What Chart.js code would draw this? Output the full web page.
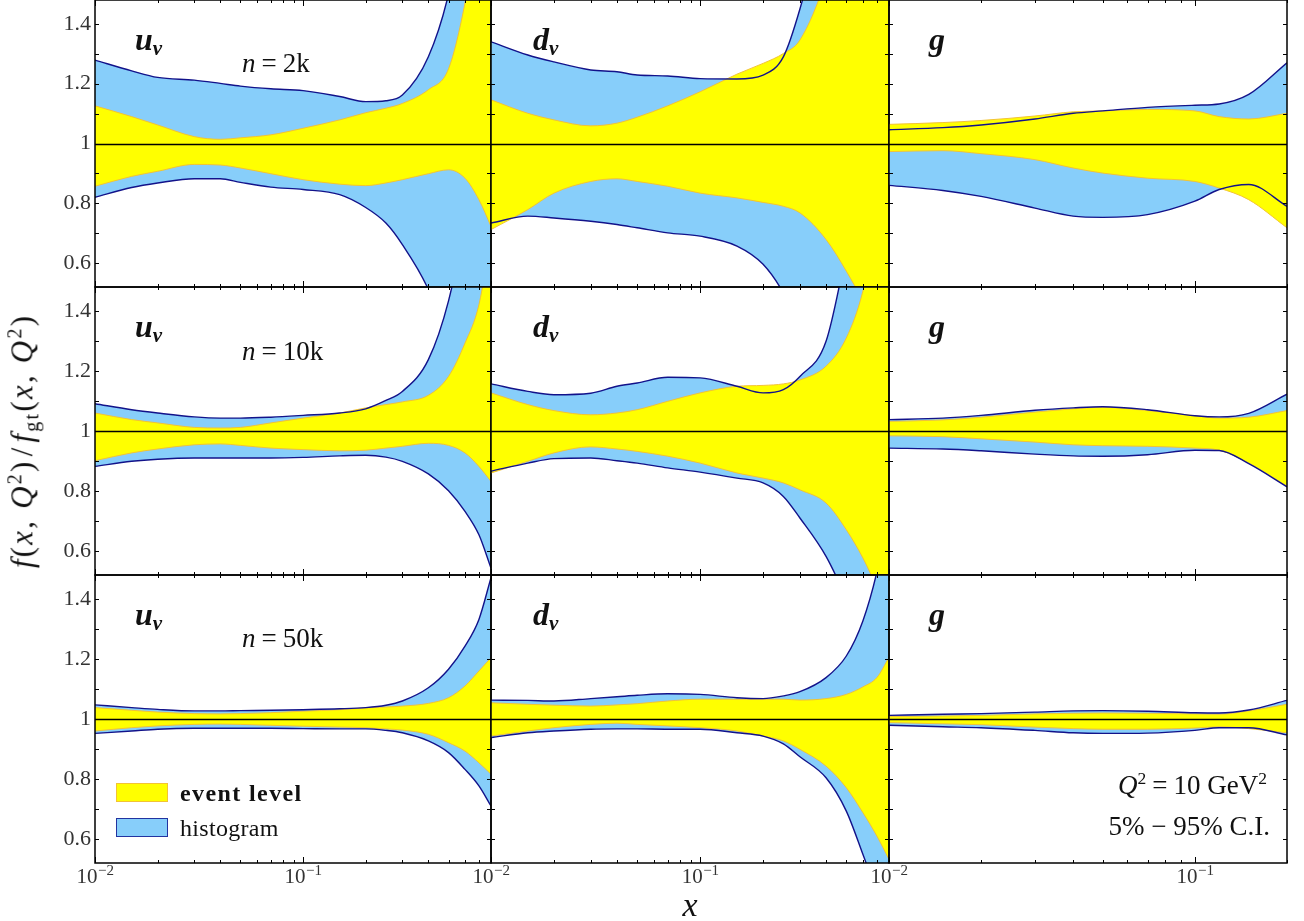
<!DOCTYPE html>
<html>
<head>
<meta charset="utf-8">
<script src="https://cdn.jsdelivr.net/npm/chart.js@4.4.1/dist/chart.umd.min.js"></script>
<style>
  body { margin: 0; background: #fff; }
  #fig { position: relative; width: 1304px; height: 921px; overflow: hidden; font-family: "Liberation Serif", serif; color: #111; }
  #fig canvas { position: absolute; }
  .t { position: absolute; white-space: nowrap; line-height: 1; z-index: 2; }
  .lab { font-size: 32px; font-weight: bold; font-style: italic; }
  .lab sub { font-size: 21px; vertical-align: -5px; }
  .n { font-size: 27px; }
  .eq { margin: 0 6px; }
  .leg { font-size: 24px; }
  .box { position: absolute; width: 52px; height: 19px; z-index: 2; box-sizing: border-box; }
  sup { font-size: 0.65em; vertical-align: 0.55em; }
  sub.s { font-size: 0.65em; vertical-align: -0.3em; }
</style>
</head>
<body>
<div id="fig">
  <div class="t lab" style="left:135px;top:23px"><i>u</i><sub>v</sub></div>
  <div class="t lab" style="left:533px;top:23px"><i>d</i><sub>v</sub></div>
  <div class="t lab" style="left:929px;top:23px"><i>g</i></div>
  <div class="t lab" style="left:135px;top:310px"><i>u</i><sub>v</sub></div>
  <div class="t lab" style="left:533px;top:310px"><i>d</i><sub>v</sub></div>
  <div class="t lab" style="left:929px;top:310px"><i>g</i></div>
  <div class="t lab" style="left:135px;top:598px"><i>u</i><sub>v</sub></div>
  <div class="t lab" style="left:533px;top:598px"><i>d</i><sub>v</sub></div>
  <div class="t lab" style="left:929px;top:598px"><i>g</i></div>

  <div class="t n" style="left:242px;top:50px"><i>n</i><span class="eq">=</span>2k</div>
  <div class="t n" style="left:242px;top:338px"><i>n</i><span class="eq">=</span>10k</div>
  <div class="t n" style="left:242px;top:625px"><i>n</i><span class="eq">=</span>50k</div>

  <div class="box" style="left:116px;top:783px;background:#ffff00;border:1.5px solid #f2c335"></div>
  <div class="box" style="left:116px;top:818px;background:#87cefa;border:1.5px solid #2233a0"></div>
  <div class="t leg" style="left:180px;top:781px;font-weight:bold;letter-spacing:1.4px">event level</div>
  <div class="t leg" style="left:180px;top:816px;letter-spacing:0.3px">histogram</div>

  <div class="t n" style="right:37px;top:770px"><i>Q</i><sup>2</sup><span class="eq">=</span>10 GeV<sup>2</sup></div>
  <div class="t n" style="right:34px;top:813px">5% − 95% C.I.</div>

  <div class="t" style="left:23px;top:441px;font-size:31px;letter-spacing:2.2px;transform:translate(-50%,-50%) rotate(-90deg)"><i>f</i>(<i>x</i>, <i>Q</i><sup>2</sup>)<span style="margin:0 3px">/</span><i>f</i><sub class="s">gt</sub>(<i>x</i>, <i>Q</i><sup>2</sup>)</div>
  <div class="t" style="left:690px;top:905px;font-size:34px;font-style:italic;transform:translate(-50%,-50%)">x</div>
</div>
<script>
// x grids (momentum fraction)
const xQuark = [0.01, 0.015, 0.02, 0.03, 0.04, 0.05, 0.07, 0.1, 0.15, 0.2, 0.25, 0.3, 0.4, 0.5, 0.6, 0.7, 0.8];
const xGluon = [0.01, 0.015, 0.02, 0.03, 0.04, 0.05, 0.07, 0.1, 0.12, 0.15, 0.2];

// ticks
const yTicks = [0.6, 0.7, 0.8, 0.9, 1, 1.1, 1.2, 1.3, 1.4];
const yTickLabels = ['0.6', '', '0.8', '', '1', '', '1.2', '', '1.4'];
const xTicksQuark = [0.01, 0.02, 0.03, 0.04, 0.05, 0.06, 0.07, 0.08, 0.09, 0.1, 0.2, 0.3, 0.4, 0.5, 0.6, 0.7, 0.8];
const xTicksGluon = [0.01, 0.02, 0.03, 0.04, 0.05, 0.06, 0.07, 0.08, 0.09, 0.1, 0.2];
const xMajorLabels = { 0.01: ['10', '−2'], 0.1: ['10', '−1'] };

// n = 2k
const uv2kHistHi = [1.279, 1.243, 1.221, 1.212, 1.201, 1.192, 1.183, 1.177, 1.157, 1.140, 1.143, 1.162, 1.29, 1.5, 1.8, 2.2, 2.6];
const uv2kHistLo = [0.820, 0.853, 0.868, 0.882, 0.882, 0.870, 0.854, 0.846, 0.829, 0.786, 0.734, 0.662, 0.512, 0.33, 0.1, -0.1, -0.3];
const uv2kEvtHi  = [1.126, 1.090, 1.062, 1.023, 1.014, 1.019, 1.029, 1.051, 1.079, 1.103, 1.118, 1.134, 1.18, 1.25, 1.47, 1.75, 2.0];
const uv2kEvtLo  = [0.857, 0.890, 0.907, 0.930, 0.928, 0.918, 0.899, 0.879, 0.864, 0.859, 0.868, 0.879, 0.899, 0.912, 0.884, 0.812, 0.723];

const dv2kHistHi = [1.340, 1.296, 1.273, 1.246, 1.240, 1.229, 1.226, 1.217, 1.216, 1.229, 1.29, 1.45, 1.8, 2.2, 2.6, 3.0, 3.4];
const dv2kHistLo = [0.734, 0.757, 0.751, 0.740, 0.729, 0.718, 0.701, 0.690, 0.657, 0.596, 0.50, 0.38, 0.2, 0.0, -0.2, -0.4, -0.6];
const dv2kEvtHi  = [1.146, 1.101, 1.079, 1.059, 1.068, 1.088, 1.126, 1.173, 1.232, 1.268, 1.301, 1.346, 1.55, 1.8, 2.1, 2.4, 2.7];
const dv2kEvtLo  = [0.712, 0.779, 0.834, 0.873, 0.882, 0.873, 0.857, 0.834, 0.818, 0.803, 0.790, 0.768, 0.679, 0.573, 0.47, 0.35, 0.2];

const g2kHistHi = [1.046, 1.053, 1.062, 1.082, 1.101, 1.109, 1.121, 1.128, 1.132, 1.164, 1.270];
const g2kHistLo = [0.860, 0.843, 0.823, 0.784, 0.757, 0.753, 0.762, 0.807, 0.846, 0.863, 0.790];
const g2kEvtHi  = [1.064, 1.070, 1.077, 1.092, 1.106, 1.109, 1.114, 1.109, 1.090, 1.082, 1.101];
const g2kEvtLo  = [0.973, 0.976, 0.966, 0.946, 0.918, 0.901, 0.884, 0.873, 0.851, 0.812, 0.718];

// n = 10k
const uv10kHistHi = [1.091, 1.071, 1.060, 1.047, 1.043, 1.043, 1.046, 1.052, 1.060, 1.074, 1.102, 1.132, 1.238, 1.434, 1.7, 2.0, 2.3];
const uv10kHistLo = [0.882, 0.899, 0.906, 0.910, 0.910, 0.910, 0.910, 0.912, 0.917, 0.919, 0.913, 0.899, 0.857, 0.801, 0.732, 0.654, 0.543];
const uv10kEvtHi  = [1.060, 1.038, 1.027, 1.012, 1.010, 1.012, 1.027, 1.043, 1.060, 1.077, 1.088, 1.097, 1.119, 1.182, 1.293, 1.421, 1.65];
const uv10kEvtLo  = [0.901, 0.927, 0.940, 0.954, 0.957, 0.952, 0.943, 0.938, 0.934, 0.936, 0.943, 0.949, 0.959, 0.952, 0.927, 0.882, 0.832];

const dv10kHistHi = [1.157, 1.132, 1.121, 1.126, 1.149, 1.160, 1.179, 1.177, 1.149, 1.127, 1.138, 1.182, 1.299, 1.6, 1.9, 2.3, 2.7];
const dv10kHistLo = [0.866, 0.893, 0.908, 0.910, 0.901, 0.893, 0.877, 0.863, 0.843, 0.827, 0.782, 0.710, 0.582, 0.44, 0.3, 0.15, 0.0];
const dv10kEvtHi  = [1.127, 1.088, 1.068, 1.054, 1.060, 1.071, 1.099, 1.127, 1.149, 1.152, 1.157, 1.170, 1.216, 1.31, 1.466, 1.7, 1.9];
const dv10kEvtLo  = [0.860, 0.899, 0.927, 0.947, 0.940, 0.932, 0.916, 0.893, 0.860, 0.843, 0.827, 0.804, 0.76, 0.671, 0.577, 0.48, 0.40];

const g10kHistHi = [1.038, 1.043, 1.052, 1.069, 1.077, 1.081, 1.071, 1.051, 1.047, 1.059, 1.123];
const g10kHistLo = [0.943, 0.940, 0.934, 0.923, 0.917, 0.916, 0.921, 0.936, 0.935, 0.891, 0.814];
const g10kEvtHi  = [1.032, 1.037, 1.046, 1.063, 1.074, 1.079, 1.068, 1.051, 1.043, 1.046, 1.068];
const g10kEvtLo  = [0.984, 0.981, 0.974, 0.963, 0.954, 0.951, 0.949, 0.943, 0.936, 0.893, 0.816];

// n = 50k
const uv50kHistHi = [1.047, 1.038, 1.032, 1.027, 1.027, 1.028, 1.029, 1.031, 1.034, 1.038, 1.046, 1.060, 1.104, 1.166, 1.243, 1.332, 1.471];
const uv50kHistLo = [0.952, 0.960, 0.966, 0.969, 0.969, 0.969, 0.969, 0.968, 0.967, 0.967, 0.962, 0.954, 0.927, 0.888, 0.832, 0.777, 0.710];
const uv50kEvtHi  = [1.038, 1.029, 1.023, 1.018, 1.017, 1.018, 1.021, 1.026, 1.031, 1.037, 1.040, 1.043, 1.052, 1.071, 1.110, 1.160, 1.204];
const uv50kEvtLo  = [0.960, 0.971, 0.977, 0.982, 0.983, 0.982, 0.979, 0.976, 0.973, 0.971, 0.967, 0.963, 0.949, 0.921, 0.893, 0.854, 0.816];

const dv50kHistHi = [1.063, 1.062, 1.060, 1.068, 1.074, 1.079, 1.084, 1.082, 1.071, 1.068, 1.077, 1.091, 1.138, 1.21, 1.327, 1.49, 1.7];
const dv50kHistLo = [0.938, 0.954, 0.960, 0.966, 0.967, 0.967, 0.966, 0.966, 0.954, 0.943, 0.917, 0.874, 0.804, 0.693, 0.549, 0.42, 0.28];
const dv50kEvtHi  = [1.054, 1.049, 1.046, 1.043, 1.047, 1.051, 1.060, 1.066, 1.066, 1.066, 1.066, 1.063, 1.068, 1.082, 1.107, 1.138, 1.205];
const dv50kEvtLo  = [0.943, 0.960, 0.971, 0.982, 0.986, 0.982, 0.977, 0.971, 0.960, 0.943, 0.927, 0.899, 0.843, 0.771, 0.688, 0.61, 0.532];

const g50kHistHi = [1.012, 1.016, 1.018, 1.023, 1.027, 1.028, 1.026, 1.021, 1.020, 1.030, 1.062];
const g50kHistLo = [0.979, 0.974, 0.971, 0.962, 0.954, 0.952, 0.953, 0.962, 0.971, 0.971, 0.947];
const g50kEvtHi  = [1.008, 1.010, 1.012, 1.017, 1.019, 1.020, 1.019, 1.017, 1.016, 1.027, 1.049];
const g50kEvtLo  = [0.988, 0.984, 0.981, 0.973, 0.968, 0.966, 0.966, 0.970, 0.974, 0.968, 0.954];

const NAVY = '#12128a';
const SKY = '#87cefa';
const YELLOW = '#ffff00';
const GOLD = '#f2c335';

const COL_L = [95, 491, 889], COL_R = [491, 889, 1287];
const ROW_T = [0, 287, 575], ROW_B = [287, 575, 863];

const panels = [
  [0, 0, xQuark, 0.8, uv2kHistHi, uv2kHistLo, uv2kEvtHi, uv2kEvtLo],
  [0, 1, xQuark, 0.8, dv2kHistHi, dv2kHistLo, dv2kEvtHi, dv2kEvtLo],
  [0, 2, xGluon, 0.2, g2kHistHi, g2kHistLo, g2kEvtHi, g2kEvtLo],
  [1, 0, xQuark, 0.8, uv10kHistHi, uv10kHistLo, uv10kEvtHi, uv10kEvtLo],
  [1, 1, xQuark, 0.8, dv10kHistHi, dv10kHistLo, dv10kEvtHi, dv10kEvtLo],
  [1, 2, xGluon, 0.2, g10kHistHi, g10kHistLo, g10kEvtHi, g10kEvtLo],
  [2, 0, xQuark, 0.8, uv50kHistHi, uv50kHistLo, uv50kEvtHi, uv50kEvtLo],
  [2, 1, xQuark, 0.8, dv50kHistHi, dv50kHistLo, dv50kEvtHi, dv50kEvtLo],
  [2, 2, xGluon, 0.2, g50kHistHi, g50kHistLo, g50kEvtHi, g50kEvtLo],
];

const pts = (xs, ys) => xs.map((x, i) => ({ x, y: ys[i] }));

function curve(data, color, width, fill, bg) {
  return {
    data, borderColor: color, borderWidth: width,
    backgroundColor: bg || 'transparent', fill: fill || false,
    pointRadius: 0, cubicInterpolationMode: 'monotone'
  };
}

const isDecade = v => Math.abs(Math.log10(v) - Math.round(Math.log10(v))) < 1e-9;

// unity line, inner ticks, panel frame and 10^n labels under the bottom row
const frame = {
  id: 'frame',
  afterDraw(chart, args, opts) {
    const { ctx, chartArea: a, scales: { x, y } } = chart;
    ctx.save();
    ctx.strokeStyle = '#000';
    ctx.lineWidth = 1.3;
    const y1 = Math.round(y.getPixelForValue(1)) + 0.5;
    ctx.beginPath(); ctx.moveTo(a.left, y1); ctx.lineTo(a.right, y1); ctx.stroke();
    ctx.lineWidth = 1;
    x.ticks.forEach(t => {
      const px = Math.round(x.getPixelForValue(t.value)) + 0.5;
      const len = isDecade(t.value) ? 6 : 3;
      ctx.beginPath();
      ctx.moveTo(px, a.bottom); ctx.lineTo(px, a.bottom - len);
      ctx.moveTo(px, a.top); ctx.lineTo(px, a.top + len);
      ctx.stroke();
    });
    y.ticks.forEach(t => {
      const py = Math.round(y.getPixelForValue(t.value)) + 0.5;
      ctx.beginPath();
      ctx.moveTo(a.left, py); ctx.lineTo(a.left + 4, py);
      ctx.moveTo(a.right, py); ctx.lineTo(a.right - 4, py);
      ctx.stroke();
    });
    ctx.lineWidth = 1.5;
    ctx.strokeRect(a.left, a.top, a.right - a.left, a.bottom - a.top);

    if (opts.xLabels) {
      ctx.fillStyle = '#333';
      ctx.textBaseline = 'alphabetic';
      ctx.textAlign = 'left';
      x.ticks.forEach(t => {
        const lab = xMajorLabels[t.value];
        if (!lab) return;
        const px = x.getPixelForValue(t.value);
        ctx.font = '21px "Liberation Serif"';
        const w1 = ctx.measureText(lab[0]).width;
        ctx.font = '15px "Liberation Serif"';
        const w2 = ctx.measureText(lab[1]).width;
        const x0 = px - (w1 + w2) / 2;
        ctx.font = '21px "Liberation Serif"';
        ctx.fillText(lab[0], x0, a.bottom + 20);
        ctx.font = '15px "Liberation Serif"';
        ctx.fillText(lab[1], x0 + w1 + 0.5, a.bottom + 12);
      });
    }
    ctx.restore();
  }
};

const fig = document.getElementById('fig');
const tickFont = { family: 'Liberation Serif', size: 22 };

panels.forEach(([r, c, xs, xMax, histHi, histLo, evtHi, evtLo]) => {
  const padL = c === 0 ? 0 : 25, padT = 3, padR = 3, padB = r === 2 ? 0 : 3;
  const axisW = c === 0 ? 95 : 0, axisH = r === 2 ? 40 : 0;
  const left = COL_L[c] - axisW - padL;
  const top = ROW_T[r] - padT;
  const width = COL_R[c] + padR - left;
  const height = ROW_B[r] + axisH + padB - top;

  const cv = document.createElement('canvas');
  cv.width = width; cv.height = height;
  cv.style.left = left + 'px'; cv.style.top = top + 'px';
  cv.style.width = width + 'px'; cv.style.height = height + 'px';
  fig.appendChild(cv);

  const xTicks = xMax > 0.5 ? xTicksQuark : xTicksGluon;

  new Chart(cv, {
    type: 'line',
    data: {
      datasets: [
        curve(pts(xs, histHi), NAVY, 1.4),
        curve(pts(xs, histLo), NAVY, 1.4),
        curve(pts(xs, evtHi), GOLD, 1),
        curve(pts(xs, evtLo), GOLD, 1, '-1', YELLOW),
        curve(pts(xs, histHi), 'transparent', 0),
        curve(pts(xs, histLo), 'transparent', 0, '-1', SKY)
      ]
    },
    options: {
      responsive: false,
      animation: false,
      devicePixelRatio: 1,
      layout: { padding: { left: padL, top: padT, right: padR, bottom: padB } },
      plugins: { legend: { display: false }, tooltip: { enabled: false }, frame: { xLabels: r === 2 } },
      scales: {
        x: {
          type: 'logarithmic', min: 0.01, max: xMax,
          grid: { display: false, drawTicks: false }, border: { display: false },
          afterBuildTicks: s => { s.ticks = xTicks.map(v => ({ value: v })); },
          afterFit: s => { s.height = axisH; s.paddingLeft = 0; s.paddingRight = 0; },
          ticks: { display: false, autoSkip: false, maxRotation: 0 }
        },
        y: {
          min: 0.52, max: 1.48,
          grid: { display: false, drawTicks: false }, border: { display: false },
          afterBuildTicks: s => { s.ticks = yTicks.map(v => ({ value: v })); },
          afterFit: s => { s.width = axisW; s.paddingTop = 0; s.paddingBottom = 0; },
          ticks: {
            display: c === 0, autoSkip: false, padding: 4,
            font: tickFont, color: '#333',
            callback: (v, i) => yTickLabels[i]
          }
        }
      }
    },
    plugins: [frame]
  });
});
</script>
</body>
</html>
